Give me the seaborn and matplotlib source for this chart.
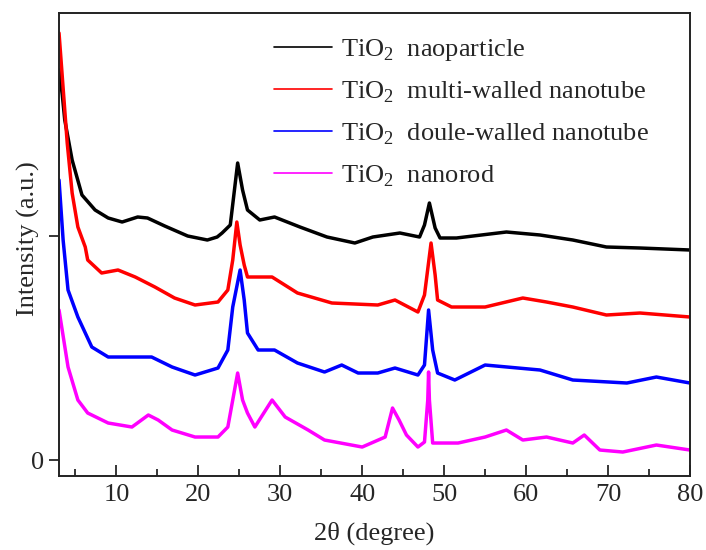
import numpy as np
import pandas as pd
import matplotlib
matplotlib.use("Agg")
import matplotlib.pyplot as plt
import seaborn as sns
from matplotlib.ticker import MultipleLocator

# XRD patterns, intensity in arbitrary units (offset stacked)
x_np = [3.0, 3.4, 3.7, 4.6, 5.8, 7.4, 9.0, 10.7, 12.6, 13.8, 15.9, 18.7, 21.1, 22.3, 22.9,
        23.9, 24.8, 25.4, 26.0, 27.5, 29.3, 32.4, 35.7, 39.1, 41.3, 44.6, 47.0, 47.6,
        48.2, 48.9, 49.5, 51.5, 57.6, 61.7, 65.7, 69.8, 73.9, 80.0]
y_np = [390, 365, 340, 300, 265, 250, 242, 238, 243, 242, 234, 224, 220, 223, 227,
        235, 297, 270, 250, 240, 243, 233, 223, 217, 223, 227, 223, 235,
        257, 232, 222, 222, 228, 225, 220, 213, 212, 210]

x_mw = [3.0, 3.4, 4.0, 4.6, 5.3, 6.2, 6.5, 8.2, 10.2, 12.3, 14.7, 17.1, 19.6, 22.4,
        23.6, 24.2, 24.7, 25.1, 25.6, 26.0, 29.0, 32.1, 36.3, 41.9, 44.0, 46.8, 47.6,
        48.4, 48.9, 49.2, 50.9, 55.0, 59.6, 62.5, 65.7, 69.8, 73.9, 80.0]
y_mw = [427, 383, 317, 267, 233, 213, 200, 187, 190, 183, 173, 162, 155, 158,
        170, 200, 238, 215, 195, 183, 183, 167, 157, 155, 160, 148, 165,
        217, 185, 160, 153, 153, 162, 158, 153, 145, 147, 143]

x_dw = [3.0, 3.5, 4.1, 5.3, 7.0, 9.0, 11.9, 14.3, 16.8, 19.6, 22.4, 23.6, 24.2, 25.1,
        25.6, 26.0, 27.3, 29.3, 32.1, 35.4, 37.5, 39.5, 41.9, 44.0, 46.8, 47.6, 48.1,
        48.6, 49.2, 51.3, 55.0, 61.7, 65.7, 72.3, 75.9, 80.0]
y_dw = [280, 220, 170, 143, 113, 103, 103, 103, 93, 85, 92, 110, 153, 190,
        160, 127, 110, 110, 97, 88, 95, 87, 87, 92, 85, 95, 150,
        110, 87, 80, 95, 90, 80, 77, 83, 77]

x_nr = [3.0, 4.1, 5.3, 6.5, 9.0, 11.9, 13.9, 15.1, 16.8, 19.6, 22.4, 23.6, 24.2, 24.8,
        25.4, 26.0, 26.9, 29.0, 30.6, 33.4, 35.4, 40.0, 42.8, 43.7, 44.5, 45.4, 46.8,
        47.6, 48.0, 48.1, 48.2, 48.6, 51.7, 55.0, 57.6, 59.6, 62.5, 65.7, 67.1, 69.0,
        71.8, 75.9, 80.0]
y_nr = [150, 93, 60, 47, 37, 33, 45, 40, 30, 23, 23, 33, 60, 87,
        60, 47, 33, 60, 43, 30, 20, 13, 23, 52, 40, 25, 13,
        18, 60, 88, 60, 17, 17, 23, 30, 20, 23, 17, 25, 10,
        8, 15, 10]

labels = [r"TiO$_\mathregular{2}$  naoparticle",
          r"TiO$_\mathregular{2}$  multi-walled nanotube",
          r"TiO$_\mathregular{2}$  doule-walled nanotube",
          r"TiO$_\mathregular{2}$  nanorod"]
colors = ["#000000", "#FF0000", "#0000FF", "#FF00FF"]

sns.set_style("ticks")
plt.rcParams["font.family"] = ["Liberation Serif", "DejaVu Serif"]
plt.rcParams["mathtext.fontset"] = "custom"
plt.rcParams["mathtext.rm"] = "Liberation Serif"
plt.rcParams["font.size"] = 19

fig = plt.figure(figsize=(7.06, 5.5), dpi=100)
ax = fig.add_axes([0.0836, 0.1345, 0.8937, 0.8419])

series = [(x_np, y_np), (x_mw, y_mw), (x_dw, y_dw), (x_nr, y_nr)]
for (xs, ys), lab, c in zip(series, labels, colors):
    df = pd.DataFrame({"x": xs, "y": ys})
    sns.lineplot(data=df, x="x", y="y", color=c, lw=2.5, label=lab, ax=ax, sort=False)

ax.set_xlim(3, 80)
ax.set_ylim(-16, 447)
ax.xaxis.set_major_locator(MultipleLocator(10))
ax.xaxis.set_minor_locator(MultipleLocator(5))
ax.set_xticks([10, 20, 30, 40, 50, 60, 70, 80])
ax.set_yticks([0, 224])
ax.set_yticklabels(["0", ""])
ax.tick_params(axis="x", which="major", direction="in", length=8, width=1.3, pad=6)
ax.tick_params(axis="x", which="minor", direction="in", length=5, width=1.3)
ax.tick_params(axis="y", direction="out", length=7, width=1.3, pad=4)
for s in ax.spines.values():
    s.set_linewidth(1.4)
    s.set_color("#222222")

ax.set_xlabel("2θ (degree)", labelpad=11)
ax.set_ylabel("Intensity (a.u.)")
ax.yaxis.set_label_coords(-0.03, 0.512)

leg = ax.legend(loc="upper left", bbox_to_anchor=(0.32, 0.977), frameon=False,
                handlelength=2.2, handletextpad=0.35, labelspacing=0.63, borderpad=0,
                fontsize=19)
for h in leg.get_lines():
    h.set_linewidth(1.2)

fig.savefig("out.png", dpi=100)
